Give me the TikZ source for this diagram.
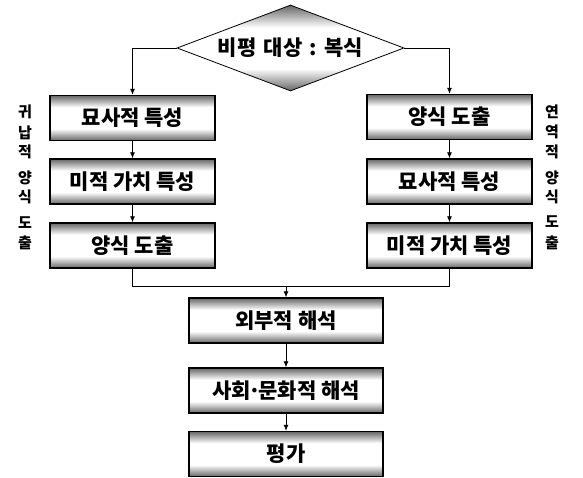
\documentclass[tikz,border=0pt]{standalone}
\usepackage{fontspec}
\setmainfont{Noto Sans CJK KR}
\newfontfamily\krheavy{Noto Sans CJK KR Black}
\usetikzlibrary{shapes.geometric,arrows.meta}
\pgfdeclareverticalshading{boxshade}{100bp}{color(0bp)=(black!60); color(25bp)=(black!60); color(38bp)=(white); color(62bp)=(white); color(75bp)=(black!60); color(100bp)=(black!60)}
\tikzset{
  x=1pt, y=-1pt,
  stepbox/.style={draw=black, line width=1.4pt, shading=boxshade, minimum width=165pt, minimum height=45pt, inner sep=0pt, font=\fontsize{21}{21}\selectfont\krheavy},
  widebox/.style={stepbox, minimum width=194pt},
  decision/.style={diamond, draw=black, line width=0.8pt, shading=boxshade, aspect=2.64, minimum width=227pt, minimum height=86pt, inner sep=0pt, font=\fontsize{21}{21}\selectfont\krheavy},
  side/.style={font=\fontsize{15}{15}\selectfont\bfseries, inner sep=0pt},
  conn/.style={line width=0.8pt},
  arr/.style={conn, -{Latex[length=6pt,width=5pt]}}
}
\begin{document}
\begin{tikzpicture}
\useasboundingbox (0,0) rectangle (583,477);
\node[decision] (D) at (290.5,48) {비평\hspace{0.35em}대상\hspace{0.35em}:\hspace{0.35em}복식};
\node[stepbox] (L1) at (132.5,118) {묘사적 특성};
\node[stepbox] (L2) at (132.5,181.5) {미적 가치 특성};
\node[stepbox] (L3) at (132.5,245.5) {양식 도출};
\node[stepbox] (R1) at (449.5,117) {양식 도출};
\node[stepbox] (R2) at (449.5,181.5) {묘사적 특성};
\node[stepbox] (R3) at (449.5,245.5) {미적 가치 특성};
\node[widebox] (B1) at (286,320.5) {외부적 해석};
\node[widebox] (B2) at (286,390.5) {사회\kern-0.12em·\kern-0.12em문화적 해석};
\node[widebox] (B3) at (286,454) {평가};
\coordinate (M) at (286,286);
\draw[arr] (D.west) -| (L1.north);
\draw[arr] (D.east) -| (R1.north);
\draw[arr] (L1) -- (L2);
\draw[arr] (L2) -- (L3);
\draw[arr] (R1) -- (R2);
\draw[arr] (R2) -- (R3);
\draw[conn] (L3.south) |- (M);
\draw[conn] (R3.south) |- (M);
\draw[arr] (M) -- (B1.north);
\draw[arr] (B1) -- (B2);
\draw[arr] (B2) -- (B3);
\node[side] (lt1) at (25,112) {귀};
\node[side] (lt2) at (25,133) {납};
\node[side] (lt3) at (25,152) {적};
\node[side] (lt4) at (25,178) {양};
\node[side] (lt5) at (25,197) {식};
\node[side] (lt6) at (25,223) {도};
\node[side] (lt7) at (25,243) {출};
\node[side] (rt1) at (552,112) {연};
\node[side] (rt2) at (552,132) {역};
\node[side] (rt3) at (552,152) {적};
\node[side] (rt4) at (552,178) {양};
\node[side] (rt5) at (552,197) {식};
\node[side] (rt6) at (552,222) {도};
\node[side] (rt7) at (552,243) {출};
\end{tikzpicture}
\end{document}
